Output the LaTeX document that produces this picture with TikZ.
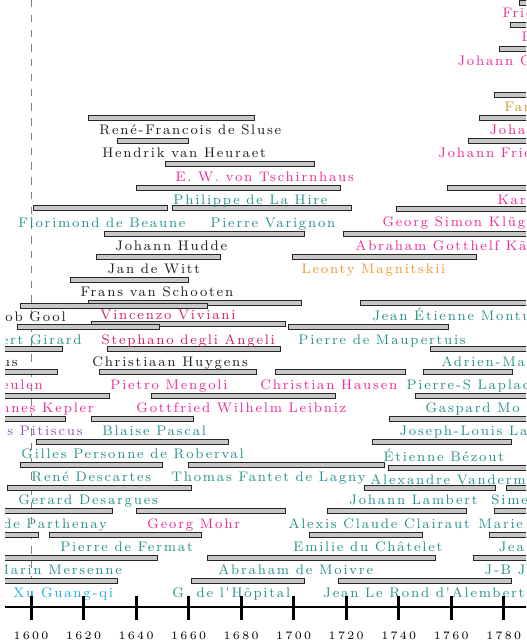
\documentclass[tikz,border=0pt]{standalone}
\usepackage{fontspec}
\newfontfamily\sperr{lmroman8-regular.otf}[LetterSpace=13]
\newfontfamily\sperrz{lmroman6-regular.otf}[LetterSpace=20]
\definecolor{tuerkis}{RGB}{38,145,140}
\definecolor{rosa}{RGB}{238,40,150}
\definecolor{karmin}{RGB}{215,30,90}
\definecolor{orangeg}{RGB}{250,150,40}
\definecolor{ocker}{RGB}{200,150,40}
\definecolor{lila}{RGB}{140,90,190}
\definecolor{himmel}{RGB}{30,170,240}
\definecolor{fast}{RGB}{30,30,30}
\tikzset{
  balken/.style={draw=black!85, fill=black!22, line width=0.5pt},
  lbl/.style={anchor=west, inner sep=0pt, text height=5.1pt, text depth=0pt,
    font=\sperr\fontsize{7.5}{9}\selectfont},
  lblr/.style={lbl, anchor=east},
  jahr/.style={inner sep=0pt, font=\sperrz\fontsize{6.2}{8}\selectfont}
}
\begin{document}
\begin{tikzpicture}[x=0.05cm, y=-0.019048cm]
    \useasboundingbox (1588.19,0) rectangle (1788.57,644);
    \clip (1590.1,0) rectangle (1788.57,644);
    % Hilfslinie 1600
    \draw[black!50, line width=0.5pt, dash pattern=on 4pt off 4pt] (1600,0) -- (1600,600);
    % Lebensbalken
    \foreach \a/\b/\y in {1786/1850/2.5, 1782.5/1850/25, 1778.3/1850/49, 1776.4/1850/95,
        1622/1685/118, 1770.7/1850/118, 1633/1660/141, 1766.5/1850/141,
        1651/1708/164, 1640/1718/188, 1758.5/1850/188,
        1601/1652/208, 1654/1722/208, 1739/1850/209,
        1628/1704/234, 1719/1850/234, 1625/1672/257, 1699.4/1769.5/257,
        1615/1660/280, 1622/1703/303, 1725.3/1850/303, 1596/1667/306,
        1623/1697/324, 1595/1649/327, 1698/1759/327,
        1580/1612/349, 1629/1695/349, 1752/1850/349,
        1580/1610/372, 1626/1686/372, 1693/1742.5/372, 1749.3/1783.2/372,
        1580/1630/396, 1646/1716/396, 1746.3/1850/396,
        1580/1613/419, 1623/1662/419, 1736.4/1850/419,
        1602/1675/442, 1730/1783/442,
        1596/1650/465, 1660/1734.5/465, 1736/1850/468,
        1591/1661/488, 1727/1777/488, 1781/1850/488,
        1580/1631/511, 1640/1697/511, 1713/1766/511, 1776.4/1850/511,
        1580/1603/535, 1607/1665/535, 1706/1749/535, 1774.5/1850/535,
        1580/1648/558, 1667/1754/558, 1768.4/1850/558,
        1580/1633/581, 1661/1704/581, 1717/1783/581}
        \draw[balken] (\a,\y-2.5) rectangle (\b,\y+2.5);
    % Namen oben rechts
    \node[lbl, rosa] (bessel) at (1779.4,13) {Frie};
    \node[lbl, rosa] (bolzano) at (1786.7,37) {B};
    \node[lbl, rosa] (gauss) at (1762.3,61) {Johann C};
    \node[lbl, ocker] (bolyai) at (1780.2,107) {Far};
    \node[lbl, fast] (sluse) at (1625.9,130) {René-Francois de Sluse};
    \node[lbl, rosa] (joha) at (1774.5,130) {Joha};
    \node[lbl, fast] (heuraet) at (1627,153) {Hendrik van Heuraet};
    \node[lbl, rosa] (pfaff) at (1755,153) {Johann Frie};
    \node[lbl, rosa] (tschirnhaus) at (1654.9,177) {E. W. von Tschirnhaus};
    \node[lbl, tuerkis] (lahire) at (1654.1,200) {Philippe de La Hire};
    \node[lbl, rosa] (kar) at (1777.5,200) {Kar};
    \node[lbl, tuerkis] (beaune) at (1595,223) {Florimond de Beaune};
    \node[lbl, tuerkis] (varignon) at (1668.2,223) {Pierre Varignon};
    \node[lbl, rosa] (kluegel) at (1733.7,222) {Georg Simon Klüg};
    \node[lbl, fast] (hudde) at (1632,246) {Johann Hudde};
    \node[lbl, rosa] (kaestner) at (1723.4,246) {Abraham Gotthelf Kä};
    \node[lbl, fast] (witt) at (1629,269) {Jan de Witt};
    \node[lbl, orangeg] (magnitskii) at (1702.9,269) {Leonty Magnitskii};
    \node[lbl, fast] (schooten) at (1618.7,292) {Frans van Schooten};
    % Namen Mitte
    \node[lblr, fast] (gool) at (1613.3,317) {ob Gool};
    \node[lbl, karmin] (viviani) at (1626.3,315) {Vincenzo Viviani};
    \node[lbl, tuerkis] (montucla) at (1729.9,316) {Jean Étienne Montu};
    \node[lblr, tuerkis] (girard) at (1619.4,340) {ert Girard};
    \node[lbl, karmin] (angeli) at (1626.7,340) {Stephano degli Angeli};
    \node[lbl, tuerkis] (maupertuis) at (1701.7,340) {Pierre de Maupertuis};
    \node[lblr, fast] (clavius) at (1595,362) {us};
    \node[lbl, fast] (huygens) at (1623.2,362) {Christiaan Huygens};
    \node[lbl, tuerkis] (legendre) at (1756.2,362) {Adrien-Ma};
    \node[lblr, rosa] (ceulen) at (1604.6,385) {eulen};
    \node[lbl, rosa] (mengoli) at (1630.1,385) {Pietro Mengoli};
    \node[lbl, rosa] (hausen) at (1687.2,385) {Christian Hausen};
    \node[lbl, tuerkis] (laplace) at (1742.9,385) {Pierre-S Laplac};
    \node[lblr, rosa] (kepler) at (1624,408) {nnes Kepler};
    \node[lbl, rosa] (leibniz) at (1640,408) {Gottfried Wilhelm Leibniz};
    \node[lbl, tuerkis] (monge) at (1750.1,408) {Gaspard Mo};
    \node[lblr, lila] (pitiscus) at (1619.8,431) {us Pitiscus};
    \node[lbl, tuerkis] (pascal) at (1627,431) {Blaise Pascal};
    \node[lbl, tuerkis] (lagrange) at (1740.2,431) {Joseph-Louis La};
    \node[lbl, tuerkis] (roberval) at (1596.2,454) {Gilles Personne de Roberval};
    \node[lbl, tuerkis] (bezout) at (1734.1,457) {Étienne Bézout};
    % Namen unten
    \node[lbl, tuerkis] (descartes) at (1600,477) {René Descartes};
    \node[lbl, tuerkis] (lagny) at (1653.3,477) {Thomas Fantet de Lagny};
    \node[lbl, tuerkis] (vandermonde) at (1729.1,480) {Alexandre Vanderm};
    \node[lbl, tuerkis] (desargues) at (1595,500) {Gerard Desargues};
    \node[lbl, tuerkis] (lambert) at (1721.1,500) {Johann Lambert};
    \node[lbl, tuerkis] (poisson) at (1775.2,500) {Sime};
    \node[lblr, tuerkis] (parthenay) at (1629,524) {de Parthenay};
    \node[lbl, rosa] (mohr) at (1644.2,524) {Georg Mohr};
    \node[lbl, tuerkis] (clairaut) at (1697.9,524) {Alexis Claude Clairaut};
    \node[lbl, tuerkis] (germain) at (1770.3,524) {Marie};
    \node[lbl, tuerkis] (fermat) at (1611,547) {Pierre de Fermat};
    \node[lbl, tuerkis] (chatelet) at (1699.8,547) {Emilie du Châtelet};
    \node[lbl, tuerkis] (jea) at (1778,547) {Jea};
    \node[lblr, tuerkis] (mersenne) at (1634.7,570) {Marin Mersenne};
    \node[lbl, tuerkis] (moivre) at (1671.2,570) {Abraham de Moivre};
    \node[lbl, tuerkis] (fourier) at (1772.6,570) {J-B J};
    \node[lbl, himmel] (xu) at (1593.1,593) {Xu Guang-qi};
    \node[lbl, tuerkis] (hopital) at (1653.7,593) {G. de l'Hôpital};
    \node[lbl, tuerkis] (alembert) at (1711.2,593) {Jean Le Rond d'Alembert};
    % Zeitachse
    \draw[line width=1.6pt] (1588,607) -- (1790,607);
    \foreach \j in {1600,1620,...,1780} {
        \draw[line width=1.6pt] (\j,596) -- (\j,620);
        \node[jahr] (j\j) at (\j,636) {\j};
    }
\end{tikzpicture}
\end{document}
